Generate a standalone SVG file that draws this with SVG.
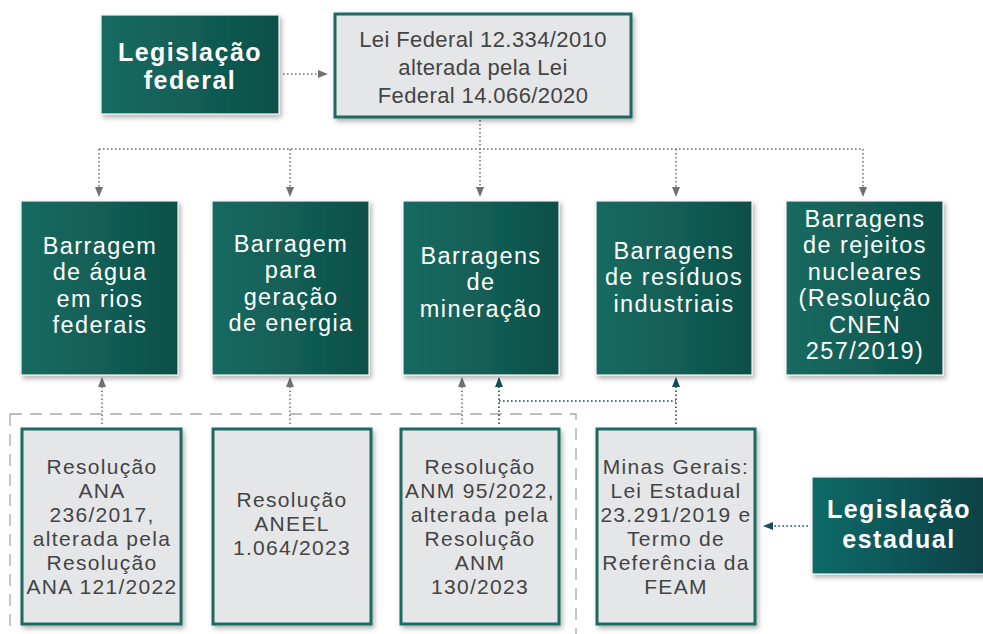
<svg xmlns="http://www.w3.org/2000/svg" width="983" height="634" viewBox="0 0 983 634">
<defs>
  <linearGradient id="gGreen" x1="0" y1="0" x2="1" y2="0">
    <stop offset="0" stop-color="#176b61"/>
    <stop offset="0.55" stop-color="#125d55"/>
    <stop offset="1" stop-color="#0a4f47"/>
  </linearGradient>
  <linearGradient id="gTeal" x1="0" y1="0" x2="1" y2="0">
    <stop offset="0" stop-color="#0d6b68"/>
    <stop offset="1" stop-color="#083f45"/>
  </linearGradient>
  <filter id="sh" x="-10%" y="-10%" width="125%" height="125%">
    <feDropShadow dx="2" dy="3" stdDeviation="2.5" flood-color="#000" flood-opacity="0.3"/>
  </filter>
  <marker id="aGray" viewBox="0 0 10 8" refX="9" refY="4" markerWidth="10" markerHeight="8" markerUnits="userSpaceOnUse" orient="auto">
    <path d="M0,0 L10,4 L0,8 Z" fill="#707070"/>
  </marker>
  <marker id="aTeal" viewBox="0 0 10 8" refX="9" refY="4" markerWidth="10" markerHeight="8" markerUnits="userSpaceOnUse" orient="auto">
    <path d="M0,0 L10,4 L0,8 Z" fill="#134f53"/>
  </marker>
</defs>
<style>
  .green { fill: url(#gGreen); stroke: #f2f2f2; stroke-width: 1.2; filter: url(#sh); }
  .teal { fill: url(#gTeal); stroke: #f2f2f2; stroke-width: 1.2; filter: url(#sh); }
  .grey { fill: #e5e6e8; stroke: #1b6a60; stroke-width: 3; filter: url(#sh); }
  .wt { font-family: "Liberation Sans", Arial, sans-serif; font-size: 23.5px; fill: #ffffff; text-anchor: middle; letter-spacing: 1.4px; }
  .bt { font-family: "Liberation Sans", Arial, sans-serif; font-size: 25px; font-weight: 700; fill: #ffffff; text-anchor: middle; letter-spacing: 1.5px; }
  .dt { font-family: "Liberation Sans", Arial, sans-serif; font-size: 21px; fill: #444444; text-anchor: middle; letter-spacing: 1.3px; }
  .lt { font-family: "Liberation Sans", Arial, sans-serif; font-size: 22px; fill: #444444; text-anchor: middle; letter-spacing: 0.4px; }
  .cg { fill: none; stroke: #707070; stroke-width: 1.6; stroke-dasharray: 1.6 2.4; }
  .ct { fill: none; stroke: #134f53; stroke-width: 1.6; stroke-dasharray: 1.6 2.4; }
  .dash { fill: none; stroke: #a8a8a8; stroke-width: 1.3; stroke-dasharray: 12 8; }
</style>

<rect class="dash" x="10" y="414" width="566" height="240"/>

<g id="connectors">
  <path class="cg" d="M283,74 H327" marker-end="url(#aGray)"/>
  <path class="cg" d="M480,120 V196" marker-end="url(#aGray)"/>
  <path class="cg" d="M99,149 H863"/>
  <path class="cg" d="M99,149 V196" marker-end="url(#aGray)"/>
  <path class="cg" d="M290,149 V196" marker-end="url(#aGray)"/>
  <path class="cg" d="M676,149 V196" marker-end="url(#aGray)"/>
  <path class="cg" d="M863,149 V196" marker-end="url(#aGray)"/>
  <path class="cg" d="M102,424 V378" marker-end="url(#aGray)"/>
  <path class="cg" d="M290,424 V378" marker-end="url(#aGray)"/>
  <path class="cg" d="M462,424 V378" marker-end="url(#aGray)"/>
  <path class="ct" d="M499,424 V378" marker-end="url(#aTeal)"/>
  <path class="ct" d="M499,401 H676"/>
  <path class="ct" d="M676,424 V378" marker-end="url(#aTeal)"/>
  <path class="ct" d="M808,526 H764" marker-end="url(#aTeal)"/>
</g>

<g id="leg-federal">
  <rect class="green" x="101" y="15" width="178" height="99"/>
  <text class="bt" x="190" y="61">Legislação</text>
  <text class="bt" x="190" y="89">federal</text>
</g>

<g id="lei-federal">
  <rect class="grey" x="335" y="14" width="296" height="103"/>
  <text class="lt" x="483" y="47">Lei Federal 12.334/2010</text>
  <text class="lt" x="483" y="75">alterada pela Lei</text>
  <text class="lt" x="483" y="102.5">Federal 14.066/2020</text>
</g>

<g id="b-agua">
  <rect class="green" x="21" y="201" width="157" height="174"/>
  <text class="wt" x="100" y="253.5">Barragem</text>
  <text class="wt" x="100" y="280">de água</text>
  <text class="wt" x="100" y="306.5">em rios</text>
  <text class="wt" x="100" y="333">federais</text>
</g>

<g id="b-energia">
  <rect class="green" x="212" y="201" width="157" height="174"/>
  <text class="wt" x="291" y="251.5">Barragem</text>
  <text class="wt" x="291" y="278">para</text>
  <text class="wt" x="291" y="304.5">geração</text>
  <text class="wt" x="291" y="331">de energia</text>
</g>

<g id="b-mineracao">
  <rect class="green" x="403" y="201" width="156" height="174"/>
  <text class="wt" x="481" y="263.5">Barragens</text>
  <text class="wt" x="481" y="290">de</text>
  <text class="wt" x="481" y="316.5">mineração</text>
</g>

<g id="b-industriais">
  <rect class="green" x="596" y="201" width="156" height="174"/>
  <text class="wt" x="674" y="258.5">Barragens</text>
  <text class="wt" x="674" y="285">de resíduos</text>
  <text class="wt" x="674" y="311.5">industriais</text>
</g>

<g id="b-nucleares">
  <rect class="green" x="786" y="201" width="157" height="174"/>
  <text class="wt" x="865" y="226.5">Barragens</text>
  <text class="wt" x="865" y="253">de rejeitos</text>
  <text class="wt" x="865" y="279.5">nucleares</text>
  <text class="wt" x="865" y="306">(Resolução</text>
  <text class="wt" x="865" y="332.5">CNEN</text>
  <text class="wt" x="865" y="359">257/2019)</text>
</g>

<g id="r-ana">
  <rect class="grey" x="22" y="429" width="159" height="195"/>
  <text class="dt" x="102" y="473.5">Resolução</text>
  <text class="dt" x="102" y="497.5">ANA</text>
  <text class="dt" x="102" y="521.5">236/2017,</text>
  <text class="dt" x="102" y="545.5">alterada pela</text>
  <text class="dt" x="102" y="569.5">Resolução</text>
  <text class="dt" x="102" y="593.5">ANA 121/2022</text>
</g>

<g id="r-aneel">
  <rect class="grey" x="213" y="429" width="158" height="195"/>
  <text class="dt" x="292" y="507">Resolução</text>
  <text class="dt" x="292" y="531">ANEEL</text>
  <text class="dt" x="292" y="554.5">1.064/2023</text>
</g>

<g id="r-anm">
  <rect class="grey" x="401" y="429" width="158" height="195"/>
  <text class="dt" x="480" y="473.5">Resolução</text>
  <text class="dt" x="480" y="497.5">ANM 95/2022,</text>
  <text class="dt" x="480" y="521.5">alterada pela</text>
  <text class="dt" x="480" y="545.5">Resolução</text>
  <text class="dt" x="480" y="569.5">ANM</text>
  <text class="dt" x="480" y="593.5">130/2023</text>
</g>

<g id="r-mg">
  <rect class="grey" x="597" y="429" width="158" height="195"/>
  <text class="dt" x="676" y="473.5">Minas Gerais:</text>
  <text class="dt" x="676" y="497.5">Lei Estadual</text>
  <text class="dt" x="676" y="521.5">23.291/2019 e</text>
  <text class="dt" x="676" y="545.5">Termo de</text>
  <text class="dt" x="676" y="569.5">Referência da</text>
  <text class="dt" x="676" y="593.5">FEAM</text>
</g>

<g id="leg-estadual">
  <rect class="teal" x="812" y="477" width="180" height="97"/>
  <text class="bt" x="899" y="518">Legislação</text>
  <text class="bt" x="899" y="548">estadual</text>
</g>
</svg>
